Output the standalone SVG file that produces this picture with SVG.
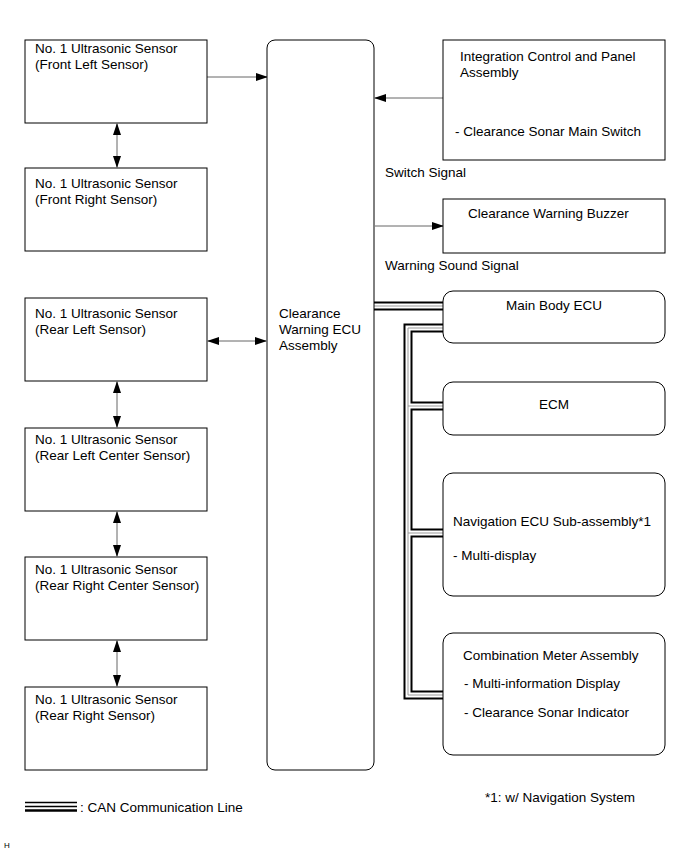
<svg xmlns="http://www.w3.org/2000/svg" width="691" height="855" viewBox="0 0 691 855">
<style>
text{font-family:"Liberation Sans",Arial,sans-serif;font-size:13.5px;fill:#000}
.box{fill:#fff;stroke:#000;stroke-width:1}
.arr{fill:none;stroke:#666;stroke-width:1}
.canO{fill:none;stroke:#000;stroke-width:9}
.canW{fill:none;stroke:#fff;stroke-width:5}
.canG{fill:none;stroke:#999;stroke-width:1}
</style>
<defs>
<marker id="ah" markerWidth="12" markerHeight="8" refX="11" refY="4" orient="auto" markerUnits="userSpaceOnUse">
<path d="M0,0 L12,4 L0,8 Z" fill="#000"/>
</marker>
<marker id="as" markerWidth="12" markerHeight="8" refX="1" refY="4" orient="auto" markerUnits="userSpaceOnUse">
<path d="M12,0 L0,4 L12,8 Z" fill="#000"/>
</marker>
</defs>
<rect width="691" height="855" fill="#fff"/>

<g id="connectors">
<line class="arr" x1="207" y1="77" x2="267" y2="77" marker-end="url(#ah)"/>
<line class="arr" x1="443" y1="98" x2="375" y2="98" marker-end="url(#ah)"/>
<line class="arr" x1="375" y1="226" x2="443" y2="226" marker-end="url(#ah)"/>
<line class="arr" x1="117" y1="124" x2="117" y2="167" marker-start="url(#as)" marker-end="url(#ah)"/>
<line class="arr" x1="208" y1="341" x2="266" y2="341" marker-start="url(#as)" marker-end="url(#ah)"/>
<line class="arr" x1="117" y1="382" x2="117" y2="427" marker-start="url(#as)" marker-end="url(#ah)"/>
<line class="arr" x1="117" y1="512" x2="117" y2="556" marker-start="url(#as)" marker-end="url(#ah)"/>
<line class="arr" x1="117" y1="641" x2="117" y2="686" marker-start="url(#as)" marker-end="url(#ah)"/>
<g id="can">
<path class="canO" d="M374,306 H443 M443,328 H408 V695 H443 M408,406 H443 M408,533 H443"/>
<path class="canW" d="M374,306 H443 M443,328 H408 V695 H443 M408,406 H443 M408,533 H443"/>
<path class="canG" d="M374,306 H443 M443,328 H408 V695 H443 M408,406 H443 M408,533 H443"/>
</g>
</g>

<g id="s1"><rect class="box" x="25" y="40" width="182" height="83"/><text x="35" y="53">No. 1 Ultrasonic Sensor</text><text x="35" y="69">(Front Left Sensor)</text></g>
<g id="s2"><rect class="box" x="25" y="168" width="182" height="83"/><text x="35" y="188">No. 1 Ultrasonic Sensor</text><text x="35" y="204">(Front Right Sensor)</text></g>
<g id="s3"><rect class="box" x="25" y="298" width="182" height="83"/><text x="35" y="318">No. 1 Ultrasonic Sensor</text><text x="35" y="334">(Rear Left Sensor)</text></g>
<g id="s4"><rect class="box" x="25" y="428" width="182" height="83"/><text x="35" y="444">No. 1 Ultrasonic Sensor</text><text x="35" y="460">(Rear Left Center Sensor)</text></g>
<g id="s5"><rect class="box" x="25" y="557" width="182" height="83"/><text x="35" y="574">No. 1 Ultrasonic Sensor</text><text x="35" y="590">(Rear Right Center Sensor)</text></g>
<g id="s6"><rect class="box" x="25" y="687" width="182" height="83"/><text x="35" y="704">No. 1 Ultrasonic Sensor</text><text x="35" y="720">(Rear Right Sensor)</text></g>

<g id="ecu"><rect class="box" x="267" y="40" width="107" height="730" rx="8"/><text x="279" y="318">Clearance</text><text x="279" y="334">Warning ECU</text><text x="279" y="350">Assembly</text></g>

<g id="icp"><rect class="box" x="443" y="40" width="222" height="120"/><text x="460" y="61">Integration Control and Panel</text><text x="460" y="77">Assembly</text><text x="455" y="136">- Clearance Sonar Main Switch</text></g>
<text x="385" y="177">Switch Signal</text>
<g id="buzzer"><rect class="box" x="443" y="199" width="222" height="54"/><text x="468" y="218">Clearance Warning Buzzer</text></g>
<text x="385" y="270">Warning Sound Signal</text>
<g id="mainbody"><rect class="box" x="443" y="291" width="222" height="52" rx="10"/><text x="554" y="310" text-anchor="middle">Main Body ECU</text></g>
<g id="ecm"><rect class="box" x="443" y="382" width="222" height="53" rx="10"/><text x="554" y="409" text-anchor="middle">ECM</text></g>
<g id="nav"><rect class="box" x="443" y="473" width="222" height="123" rx="10"/><text x="453" y="526">Navigation ECU Sub-assembly*1</text><text x="453" y="560">- Multi-display</text></g>
<g id="meter"><rect class="box" x="443" y="633" width="222" height="122" rx="10"/><text x="463" y="660">Combination Meter Assembly</text><text x="464" y="688">- Multi-information Display</text><text x="464" y="717">- Clearance Sonar Indicator</text></g>

<g id="legend">
<line x1="25" y1="802.5" x2="77" y2="802.5" stroke="#000" stroke-width="1.5"/>
<line x1="25" y1="806.5" x2="77" y2="806.5" stroke="#000" stroke-width="1.5"/>
<line x1="25" y1="810.5" x2="77" y2="810.5" stroke="#000" stroke-width="2.5"/>
<text x="80" y="812">: CAN Communication Line</text>
<text x="485" y="802">*1: w/ Navigation System</text>
<text x="4" y="848" style="font-size:8px">H</text>
</g>
</svg>
